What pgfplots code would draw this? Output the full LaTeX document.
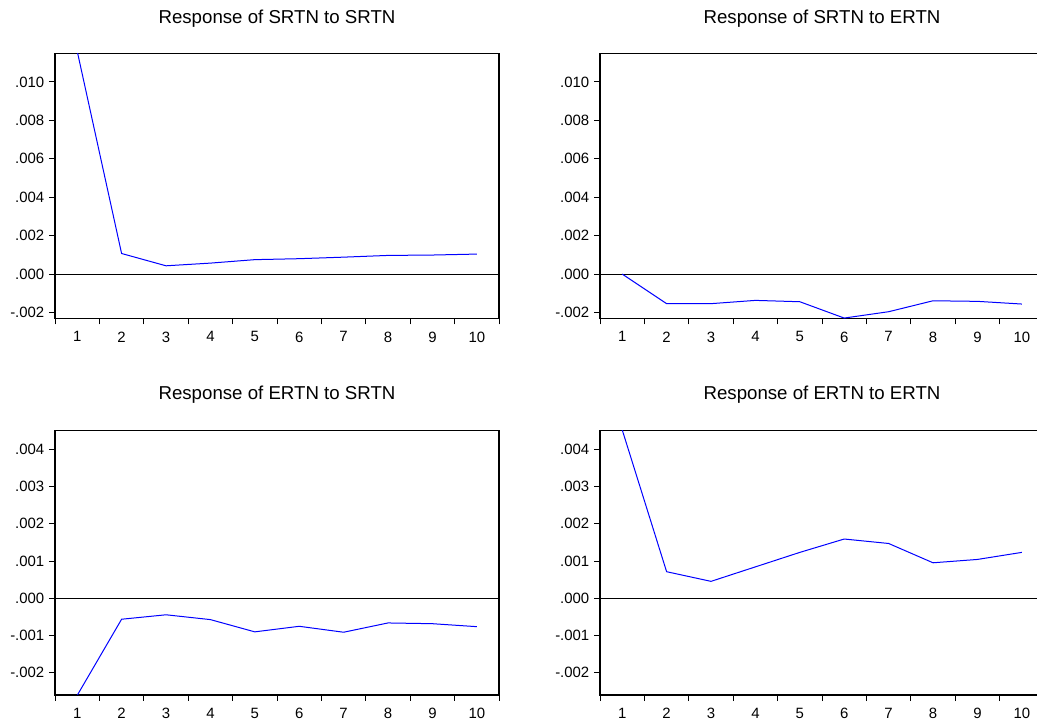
\documentclass[border=0pt]{standalone}
\usepackage{fontspec}
\setmainfont{Liberation Sans}
\usepackage{pgfplots}
\pgfplotsset{compat=1.18}
\definecolor{irfblue}{RGB}{0,0,255}
\pgfplotsset{irf/.style={
  scale only axis, width=333pt, height=198.6pt,
  anchor=south west,
  xmin=0.5, xmax=10.5,
  xtick={0.5,1.5,2.5,3.5,4.5,5.5,6.5,7.5,8.5,9.5,10.5},
  xticklabel={\mbox{}},
  extra x ticks={1,2,3,4,5,6,7,8,9,10},
  extra x tick labels={1,2,3,4,5,6,7,8,9,10},
  extra x tick style={major tick length=0pt, xticklabel style={yshift=-6.5pt}},
  scaled y ticks=false,
  tick align=outside,
  tick pos=left,
  major tick length=4.5pt,
  tick style={black, line width=0.6pt},
  axis line style={black, line width=0.8pt},
  tick label style={font=\fontsize{11.2}{13}\selectfont},
  title style={font=\fontsize{14}{16}\selectfont, at={(0.5,1)}, anchor=center, yshift=20.3pt},
  clip=true,
}}
\begin{document}
\begin{tikzpicture}
% Panel 1
\begin{axis}[irf, at={(41.25pt,301.3pt)},
  ymin=-0.0023, ymax=0.01148,
  ytick={-0.002,0,0.002,0.004,0.006,0.008,0.010},
  yticklabels={-.002,.000,.002,.004,.006,.008,.010},
  title={Response of SRTN to SRTN}]
\addplot[black, line width=0.6pt] coordinates {(0.5,0) (10.5,0)};
\addplot[irfblue, line width=0.75pt] coordinates {
(1,0.0116) (2,0.00107) (3,0.00043) (4,0.00057) (5,0.00075) (6,0.00080) (7,0.00088) (8,0.00097) (9,0.00099) (10,0.00104)};
\end{axis}
% Panel 2
\begin{axis}[irf, at={(450pt,301.3pt)},
  ymin=-0.0023, ymax=0.01148,
  ytick={-0.002,0,0.002,0.004,0.006,0.008,0.010},
  yticklabels={-.002,.000,.002,.004,.006,.008,.010},
  title={Response of SRTN to ERTN}]
\addplot[black, line width=0.6pt] coordinates {(0.5,0) (10.5,0)};
\addplot[irfblue, line width=0.75pt] coordinates {
(1,0) (2,-0.00154) (3,-0.00154) (4,-0.00137) (5,-0.00144) (6,-0.00229) (7,-0.00196) (8,-0.00139) (9,-0.00142) (10,-0.00156)};
\end{axis}
% Panel 3
\begin{axis}[irf, at={(41.25pt,18.75pt)},
  ymin=-0.00261, ymax=0.00452,
  ytick={-0.002,-0.001,0,0.001,0.002,0.003,0.004},
  yticklabels={-.002,-.001,.000,.001,.002,.003,.004},
  title={Response of ERTN to SRTN}]
\addplot[black, line width=0.6pt] coordinates {(0.5,0) (10.5,0)};
\addplot[irfblue, line width=0.75pt] coordinates {
(1,-0.00262) (2,-0.00057) (3,-0.00045) (4,-0.00058) (5,-0.00091) (6,-0.00076) (7,-0.00092) (8,-0.00067) (9,-0.00069) (10,-0.00077)};
\end{axis}
% Panel 4
\begin{axis}[irf, at={(450pt,18.75pt)},
  ymin=-0.00261, ymax=0.00452,
  ytick={-0.002,-0.001,0,0.001,0.002,0.003,0.004},
  yticklabels={-.002,-.001,.000,.001,.002,.003,.004},
  title={Response of ERTN to ERTN}]
\addplot[black, line width=0.6pt] coordinates {(0.5,0) (10.5,0)};
\addplot[irfblue, line width=0.75pt] coordinates {
(1,0.00453) (2,0.00071) (3,0.00045) (4,0.00084) (5,0.00123) (6,0.00159) (7,0.00147) (8,0.00095) (9,0.00104) (10,0.00123)};
\end{axis}
\pgfresetboundingbox
\useasboundingbox (0,0) rectangle (777.75pt,540pt);
\end{tikzpicture}
\end{document}
